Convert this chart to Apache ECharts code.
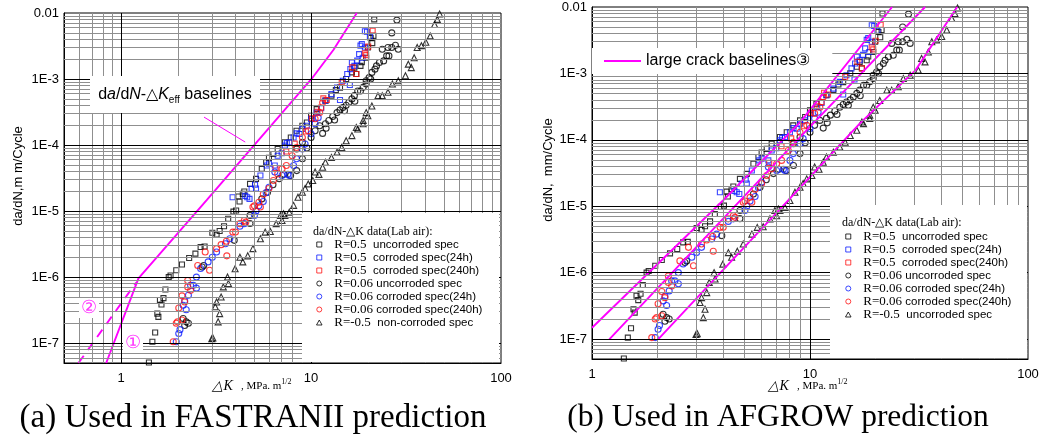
<!DOCTYPE html>
<html>
<head>
<meta charset="utf-8">
<script src="https://cdn.jsdelivr.net/npm/echarts@6.0.0/dist/echarts.min.js"></script>
<style>
html, body { margin: 0; padding: 0; background: #fff; }
#chart { width: 1040px; height: 440px; }
</style>
</head>
<body>
<div id="chart"></div>
<script>
// crack growth data: [deltaK (MPa.m^1/2), da/dN (mm/cycle)]
var r05Uncorroded = [[1.40,5.1e-8],[1.46,1.05e-7],[1.51,1.45e-7],[1.55,2.8e-7],[1.57,2.5e-7],[1.60,4.5e-7],[1.63,3.85e-7],[1.67,4.8e-7],[1.71,6.5e-7],[1.78,1.0e-6],[1.82,1.06e-6],[1.95,1.27e-6],[2.09,1.55e-6],[2.28,1.95e-6],[2.46,2.27e-6],[2.62,2.85e-6],[2.75,2.9e-6],[3.02,4.7e-6],[3.18,4.4e-6],[3.30,5.0e-6],[3.48,5.9e-6],[3.66,7.65e-6],[3.90,9.8e-6],[4.03,1.02e-5],[4.14,1.66e-5],[4.20,1.4e-5],[4.37,1.82e-5],[4.45,1.98e-5],[4.77,2.58e-5],[5.13,3.07e-5],[5.50,4.35e-5],[5.80,5.5e-5],[6.00,6.4e-5],[6.33,7.3e-5],[6.67,8.7e-5],[7.28,1.1e-4],[7.82,1.3e-4],[8.38,1.65e-4],[9.00,1.96e-4],[9.50,2.2e-4],[10.0,2.78e-4],[10.7,3.5e-4],[11.9,4.7e-4],[12.8,5.6e-4],[13.5,6.8e-4],[14.2,7.4e-4],[15.3,1.0e-3],[16.4,1.26e-3],[16.9,1.49e-3],[17.3,1.19e-3],[18.2,1.58e-3],[18.5,1.8e-3],[19.5,2.1e-3],[19.9,3.0e-3],[20.6,4.2e-3],[21.0,3.5e-3],[21.3,4.5e-3],[21.5,8.0e-3]];
var r05Corroded24 = [[3.86,1.62e-5],[4.50,1.7e-5],[4.61,1.62e-5],[4.74,1.53e-5],[4.86,2.17e-5],[5.07,2.5e-5],[5.13,2.2e-5],[5.41,3.45e-5],[5.85,4.9e-5],[6.00,5.2e-5],[6.44,4.9e-5],[6.67,6.9e-5],[7.00,7.5e-5],[7.28,9.8e-5],[7.45,1.07e-4],[7.68,1.1e-4],[8.09,1.3e-4],[8.40,1.5e-4],[8.69,1.47e-4],[9.00,1.75e-4],[9.49,1.96e-4],[10.0,2.48e-4],[10.7,3.1e-4],[11.3,3.6e-4],[11.9,4.7e-4],[12.8,5.9e-4],[13.7,7.45e-4],[14.2,4.8e-4],[14.7,9.4e-4],[15.5,1.19e-3],[16.0,8.1e-4],[16.1,1.41e-3],[16.4,1.78e-3],[16.9,1.58e-3],[17.5,1.9e-3],[17.9,2.38e-3],[18.2,3.2e-3],[18.5,3.4e-3],[18.7,2.1e-3],[19.2,3.0e-3],[19.2,5.3e-3],[19.7,5.2e-3],[20.4,4.4e-3]];
var r05Corroded240 = [[6.5,4.5e-5],[7.4,8.0e-5],[8.2,1.05e-4],[9.4,1.6e-4],[10.1,2.54e-4],[10.8,3.2e-4],[11.3,3.7e-4],[11.6,5.1e-4],[12.1,4.8e-4],[14.5,8.9e-4],[16.5,1.5e-3],[17.3,1.19e-3],[19.2,2.45e-3],[19.5,2.3e-3],[20.0,3.1e-3],[21.1,5.4e-3]];
var r006Uncorroded = [[2.12,2.36e-7],[2.20,2.1e-7],[2.26,2.0e-7],[2.16,1.85e-7],[2.67,1.42e-6],[2.72,1.5e-6],[3.94,3.6e-6],[4.77,6.5e-6],[4.77,8.6e-6],[5.50,1.53e-5],[5.90,1.93e-5],[6.30,2.5e-5],[6.80,3.1e-5],[7.20,3.6e-5],[7.80,3.45e-5],[8.40,4.1e-5],[8.40,8.7e-5],[9.00,6.2e-5],[9.00,1.1e-4],[9.50,9.0e-5],[10.0,1.3e-4],[10.5,1.65e-4],[11.1,1.96e-4],[11.5,1.5e-4],[11.9,2.1e-4],[12.0,1.8e-4],[12.4,2.35e-4],[13.0,2.7e-4],[13.3,2.4e-4],[13.7,3.1e-4],[14.2,3.4e-4],[14.7,3.7e-4],[15.0,3.3e-4],[15.3,4.0e-4],[15.8,4.4e-4],[16.4,5.0e-4],[16.9,5.6e-4],[17.0,4.6e-4],[17.6,6.6e-4],[18.2,6.6e-4],[18.8,7.5e-4],[19.5,8.4e-4],[19.5,9.4e-4],[20.2,1.05e-3],[20.6,1.0e-3],[20.9,1.26e-3],[21.7,1.41e-3],[22.1,1.58e-3],[22.9,1.78e-3],[24.1,1.88e-3],[25.0,2.24e-3],[25.7,2.24e-3],[23.7,2.83e-3],[25.4,3.0e-3],[26.6,3.0e-3],[27.8,3.25e-3],[28.8,2.83e-3],[26.6,5.0e-3],[28.3,7.8e-3]];
var r006Corroded24 = [[1.95,1.05e-7],[2.01,1.4e-7],[2.04,1.6e-7],[2.12,3.75e-7],[2.16,4.4e-7],[2.20,3.2e-7],[2.26,5.3e-7],[2.32,7.5e-7],[2.40,7.5e-7],[2.49,6.8e-7],[2.49,1.0e-6],[2.62,1.35e-6],[2.87,1.7e-6],[3.02,2.0e-6],[3.18,2.4e-6],[3.54,3.2e-6],[3.73,3.8e-6],[4.22,5.9e-6],[4.45,6.45e-6],[5.03,8.6e-6],[5.13,1.0e-5],[5.31,1.2e-5],[5.60,1.4e-5],[5.80,1.9e-5],[6.00,2.3e-5],[6.44,3.9e-5],[7.03,3.45e-5],[7.55,3.6e-5],[7.68,3.45e-5],[8.09,4.9e-5],[8.38,6.2e-5],[9.00,8.7e-5],[9.30,1.04e-4],[10.0,1.48e-4],[10.5,2.1e-4],[10.9,2.6e-4]];
var r006Corroded240 = [[1.88,1.05e-7],[1.95,2.0e-7],[1.98,2.1e-7],[2.09,2.24e-7],[2.01,3.4e-7],[2.09,5.2e-7],[2.16,4.2e-7],[2.24,7.1e-7],[2.32,6.3e-7],[2.24,8.9e-7],[2.53,1.5e-6],[2.92,1.27e-6],[2.77,2.4e-6],[3.18,2.7e-6],[3.36,3.1e-6],[3.60,2.1e-6],[3.58,3.5e-6],[3.87,4.8e-6],[4.00,4.8e-6],[4.22,6.45e-6],[4.45,7.2e-6],[4.53,6.8e-6],[4.94,1.15e-5],[5.03,1.2e-5],[5.31,1.36e-5],[5.41,1.15e-5],[5.60,1.8e-5],[6.00,2.2e-5],[6.33,2.9e-5],[6.67,3.65e-5],[7.03,4.35e-5],[7.41,4.9e-5],[7.95,6.9e-5],[8.38,9.2e-5],[9.00,1.3e-4],[9.66,1.65e-4],[10.5,2.5e-4],[11.1,3.1e-4],[11.5,4.4e-4]];
var rMinus05 = [[3.00,1.17e-7],[3.04,1.2e-7],[3.24,2.1e-7],[3.30,2.8e-7],[3.13,3.55e-7],[3.18,4.2e-7],[3.36,5.0e-7],[3.45,7.1e-7],[3.67,8.0e-7],[3.63,1.0e-6],[3.98,1.34e-6],[4.22,2.0e-6],[4.37,1.7e-6],[4.64,2.1e-6],[4.94,2.7e-6],[5.41,3.8e-6],[5.73,4.8e-6],[6.10,4.9e-6],[6.55,6.45e-6],[6.90,8.6e-6],[7.03,7.2e-6],[7.16,9.1e-6],[7.28,8.6e-6],[7.68,9.6e-6],[8.09,1.22e-5],[8.53,1.62e-5],[9.00,1.93e-5],[9.30,2.2e-5],[9.66,2.58e-5],[10.2,2.9e-5],[10.5,3.9e-5],[11.0,3.6e-5],[11.5,4.6e-5],[11.9,5.5e-5],[12.8,6.5e-5],[13.7,7.8e-5],[14.5,9.2e-5],[15.3,1.16e-4],[16.4,1.39e-4],[17.3,1.85e-4],[17.6,1.75e-4],[18.8,2.1e-4],[18.8,2.35e-4],[19.5,3.1e-4],[19.9,2.78e-4],[20.9,3.9e-4],[22.5,5.6e-4],[23.7,5.6e-4],[25.4,6.3e-4],[26.8,8.4e-4],[28.8,9.4e-4],[31.4,1.12e-3],[32.5,1.68e-3],[33.7,1.49e-3],[34.9,2.1e-3],[36.2,3.0e-3],[38.1,3.2e-3],[40.2,3.6e-3],[42.4,4.5e-3],[44.7,6.7e-3],[46.2,8.0e-3],[47.5,9.7e-3]];

// baselines
var effBaseline1 = [[0.834,5e-8],[1.233,9.55e-7],[2.82,1.47e-5],[6.87,2.85e-4],[10.1,1.02e-3],[13.1,2.75e-3],[17.4,1.0e-2]];
var effBaseline2 = [[0.596,5e-8],[1.2,8.3e-7]];
var largeCrackA = [[1.0,1.48e-7],[3.99,1.22e-5],[9.0,1.83e-4],[23.8,1.0e-2]];
var largeCrackB = [[1.2,9.9e-8],[9.0,1.1e-4],[33.7,1.0e-2]];
var largeCrackC = [[2.01,9.9e-8],[7.94,1.22e-5],[16.9,1.75e-4],[30.5,1.12e-3],[47.3,1.0e-2]];
var leaderLine = [[2.73,2.65e-4],[4.5,1.11e-4]];

// axes
var xRangeLeft = [0.5, 100];
var xRangeRight = [1, 100];
var yRange = [5e-8, 1e-2];
var xTicks = [1, 10, 100];
var xTickLabels = ['1', '10', '100'];
var yTicks = [1e-7, 1e-6, 1e-5, 1e-4, 1e-3, 1e-2];
var yTickLabels = ['1E-7', '1E-6', '1E-5', '1E-4', '1E-3', '0.01'];

var seriesNames = ['R=0.5  uncorroded spec', 'R=0.5  corroded spec(24h)', 'R=0.5  corroded spec(240h)',
  'R=0.06 uncorroded spec', 'R=0.06 corroded spec(24h)', 'R=0.06 corroded spec(240h)'];
var triNames = ['R=-0.5  non-corroded spec', 'R=-0.5  uncorroded spec'];
var baselineName = 'large crack baselines\u2462';

var MAG = '#ff00ff';
var ICON_SQ = 'path://M0,0H10V10H0Z';
var ICON_CI = 'path://M10,5A5,5,0,1,1,0,5A5,5,0,1,1,10,5Z';
var ICON_TR = 'path://M5,0L10,9L0,9Z';

var seriesStyle = [
  {data: r05Uncorroded, symbol: 'rect', size: 5, color: '#000', icon: ICON_SQ},
  {data: r05Corroded24, symbol: 'rect', size: 5, color: '#0a1aff', icon: ICON_SQ},
  {data: r05Corroded240, symbol: 'rect', size: 5, color: '#ff1010', icon: ICON_SQ},
  {data: r006Uncorroded, symbol: 'circle', size: 6, color: '#000', icon: ICON_CI},
  {data: r006Corroded24, symbol: 'circle', size: 6, color: '#0a1aff', icon: ICON_CI},
  {data: r006Corroded240, symbol: 'circle', size: 6, color: '#ff1010', icon: ICON_CI},
  {data: rMinus05, symbol: 'triangle', size: 6, color: '#000', icon: ICON_TR}
];

function labelFor(v, ticks, labels) {
  var lv = Math.log10(v);
  for (var i = 0; i < ticks.length; i++) {
    if (Math.abs(Math.log10(ticks[i]) - lv) < 1e-6) return labels[i];
  }
  return '';
}

// 2..9 x 10^e grid positions between two decades
function decadeSteps(fromExp, toExp, lowStart) {
  var minor = [], major = [];
  for (var e = fromExp; e < toExp; e++) {
    var base = Math.pow(10, e);
    if (e > fromExp) major.push(base);
    for (var m = 2; m <= 9; m++) {
      if (e === fromExp && m < lowStart) continue;
      minor.push(m * base);
    }
  }
  return {minor: minor, major: major};
}

var xLeftLines = decadeSteps(-1, 2, 6);
var xRightLines = decadeSteps(0, 2, 2);
var yLines = decadeSteps(-8, -2, 6);

function gridLines(gi, xl, xr) {
  var d = [];
  function vline(v, c) { d.push([{coord: [v, yRange[0]], lineStyle: {color: c}}, {coord: [v, yRange[1]]}]); }
  function hline(v, c) { d.push([{coord: [xr[0], v], lineStyle: {color: c}}, {coord: [xr[1], v]}]); }
  xl.minor.forEach(function (v) { vline(v, '#8f8f8f'); });
  yLines.minor.forEach(function (v) { hline(v, '#8f8f8f'); });
  xl.major.forEach(function (v) { vline(v, '#000'); });
  yLines.major.forEach(function (v) { hline(v, '#000'); });
  return {
    type: 'line', name: 'grid' + gi, xAxisIndex: gi, yAxisIndex: gi, z: 1,
    data: [[xTicks[1], yTicks[3]]], symbol: 'none', lineStyle: {opacity: 0},
    markLine: {silent: true, symbol: ['none', 'none'], animation: false,
      label: {show: false}, lineStyle: {type: 'solid', width: 1}, data: d}
  };
}

function scatterSeries(gi, i) {
  var s = seriesStyle[i];
  return {
    type: 'scatter', name: i < 6 ? seriesNames[i] : triNames[gi],
    xAxisIndex: gi, yAxisIndex: gi, z: 3,
    data: s.data, symbol: s.symbol, symbolSize: s.size,
    itemStyle: {color: 'rgba(0,0,0,0)', borderColor: s.color, borderWidth: 1.1},
    emphasis: {disabled: true}
  };
}

function lineSeries(gi, name, data, type) {
  return {
    type: 'line', name: name, xAxisIndex: gi, yAxisIndex: gi, z: 4,
    data: data, symbol: 'none', showSymbol: false,
    lineStyle: {color: MAG, width: 1.9, type: type || 'solid'},
    itemStyle: {color: MAG}, emphasis: {disabled: true}
  };
}

function xAxisFor(gi, range) {
  return {
    type: 'log', logBase: 10, gridIndex: gi, min: range[0], max: range[1],
    axisLine: {show: true, lineStyle: {color: '#000', width: 1}},
    axisTick: {show: false}, splitLine: {show: false},
    axisLabel: {margin: 9, color: '#000', fontSize: 13, fontFamily: 'Liberation Sans',
      showMinLabel: true, showMaxLabel: true,
      formatter: function (v) { return labelFor(v, xTicks, xTickLabels); }}
  };
}

function yAxisFor(gi) {
  return {
    type: 'log', logBase: 10, gridIndex: gi, min: yRange[0], max: yRange[1],
    axisLine: {show: true, lineStyle: {color: '#000', width: 1}},
    axisTick: {show: false}, splitLine: {show: false},
    axisLabel: {margin: 5, color: '#000', fontSize: 13, fontFamily: 'Liberation Sans',
      showMinLabel: true, showMaxLabel: true,
      formatter: function (v) { return labelFor(v, yTicks, yTickLabels); }}
  };
}

function legendFormatter(name) {
  var m = name.match(/^(R=\S+)(\s+)(.*)$/);
  return '{r|' + m[1] + m[2] + '}{s|' + m[3] + '}';
}

function dataLegend(gi, left, top, lh) {
  var items = seriesStyle.map(function (s, i) {
    return {
      name: i < 6 ? seriesNames[i] : triNames[gi], icon: s.icon,
      itemStyle: {color: 'rgba(0,0,0,0)', borderColor: s.color, borderWidth: 1}
    };
  });
  return {
    orient: 'vertical', left: left, top: top, padding: 0, z: 20,
    itemWidth: 20, itemHeight: 5, itemGap: 0, selectedMode: false,
    data: items, formatter: legendFormatter,
    textStyle: {color: '#000', rich: {
      r: {fontFamily: 'Liberation Serif', fontSize: 13, lineHeight: lh, color: '#000'},
      s: {fontFamily: 'Liberation Sans', fontSize: 11.5, lineHeight: lh, color: '#000'}
    }}
  };
}

var series = [gridLines(0, xLeftLines, xRangeLeft), gridLines(1, xRightLines, xRangeRight)];
for (var g = 0; g < 2; g++) {
  for (var k = 0; k < seriesStyle.length; k++) series.push(scatterSeries(g, k));
}
var base1 = lineSeries(0, 'eff1', effBaseline1);
base1.markLine = {silent: true, symbol: ['none', 'none'], animation: false, label: {show: false},
  lineStyle: {color: MAG, width: 1, type: 'solid'},
  data: [[{coord: leaderLine[0]}, {coord: leaderLine[1]}]]};
series.push(base1);
series.push(lineSeries(0, 'eff2', effBaseline2, [9, 7]));
series.push(lineSeries(1, baselineName, largeCrackA));
series.push(lineSeries(1, baselineName, largeCrackB));
series.push(lineSeries(1, baselineName, largeCrackC));

var xTitleRich = {
  k: {fontFamily: 'Liberation Serif', fontStyle: 'italic', fontSize: 14, lineHeight: 16, color: '#000'},
  t: {fontFamily: 'Liberation Serif', fontSize: 11, lineHeight: 16, color: '#000'},
  u: {fontFamily: 'Liberation Serif', fontSize: 8, lineHeight: 8, verticalAlign: 'top', color: '#000'}
};
function textEl(x, y, text, style, extra) {
  var el = {type: 'text', x: x, y: y, z: 21, style: Object.assign({text: text, fill: '#000', align: 'center', verticalAlign: 'middle'}, style)};
  return Object.assign(el, extra || {});
}

var graphics = [
  {type: 'rect', z: 15, shape: {x: 302, y: 213, width: 197, height: 149}, style: {fill: '#fff'}},
  {type: 'rect', z: 15, shape: {x: 830, y: 205, width: 197, height: 153}, style: {fill: '#fff'}},
  {type: 'rect', z: 15, shape: {x: 90, y: 76, width: 170, height: 37}, style: {fill: '#fff'}},
  textEl(313, 232, 'da/dN-\u25b3K data(Lab air):', {align: 'left', fontFamily: 'Liberation Serif', fontSize: 12}),
  textEl(842, 223, 'da/dN-\u25b3K data(Lab air):', {align: 'left', fontFamily: 'Liberation Serif', fontSize: 12}),
  textEl(175, 95, '{n|d}{i|a}{n|/d}{i|N}{n|-\u25b3}{i|K}{e|eff}{n| baselines}', {rich: {
    n: {fontFamily: 'Liberation Sans', fontSize: 16, lineHeight: 20, color: '#000'},
    i: {fontFamily: 'Liberation Sans', fontStyle: 'italic', fontSize: 16, lineHeight: 20, color: '#000'},
    e: {fontFamily: 'Liberation Sans', fontSize: 10, lineHeight: 12, verticalAlign: 'bottom', color: '#000'}
  }}),
  textEl(89, 308, '\u2461', {fill: '#ff33ff', fontSize: 18, backgroundColor: '#fff', padding: [1, 2]}),
  textEl(133, 343, '\u2460', {fill: '#ff33ff', fontSize: 18, backgroundColor: '#fff', padding: [1, 2]}),
  textEl(18, 176, 'da/dN,m m/Cycle', {fontFamily: 'Liberation Sans', fontSize: 13}, {rotation: Math.PI / 2}),
  textEl(548, 170, 'da/dN,  mm/Cycle', {fontFamily: 'Liberation Sans', fontSize: 13}, {rotation: Math.PI / 2}),
  textEl(252, 386, '{k|\u25b3K}{t|   , MPa. m}{u|1/2}', {rich: xTitleRich}),
  textEl(808, 386, '{k|\u25b3K}{t|   , MPa. m}{u|1/2}', {rich: xTitleRich}),
  textEl(253, 418, '(a) Used in FASTRANII prediction', {fontFamily: 'Liberation Serif', fontSize: 33}),
  textEl(778, 418, '(b) Used in AFGROW prediction', {fontFamily: 'Liberation Serif', fontSize: 31.5})
];

var chart = echarts.init(document.getElementById('chart'));
chart.setOption({
  animation: false,
  backgroundColor: '#fff',
  grid: [
    {left: 64, top: 13, width: 437, height: 350, show: true, borderColor: '#000', borderWidth: 1, containLabel: false, outerBoundsMode: 'none'},
    {left: 592, top: 7, width: 436, height: 352, show: true, borderColor: '#000', borderWidth: 1, containLabel: false, outerBoundsMode: 'none'}
  ],
  xAxis: [xAxisFor(0, xRangeLeft), xAxisFor(1, xRangeRight)],
  yAxis: [yAxisFor(0), yAxisFor(1)],
  legend: [
    dataLegend(0, 316, 238, 15.7),
    dataLegend(1, 845, 230, 16.1),
    {left: 592, top: 48, padding: [5, 22, 5, 11], z: 20, backgroundColor: '#fff',
      itemWidth: 37, itemHeight: 14, selectedMode: false, data: [baselineName],
      itemStyle: {opacity: 0},
      textStyle: {color: '#000', fontFamily: 'Liberation Sans', fontSize: 16}}
  ],
  graphic: graphics,
  series: series
});
</script>
</body>
</html>
